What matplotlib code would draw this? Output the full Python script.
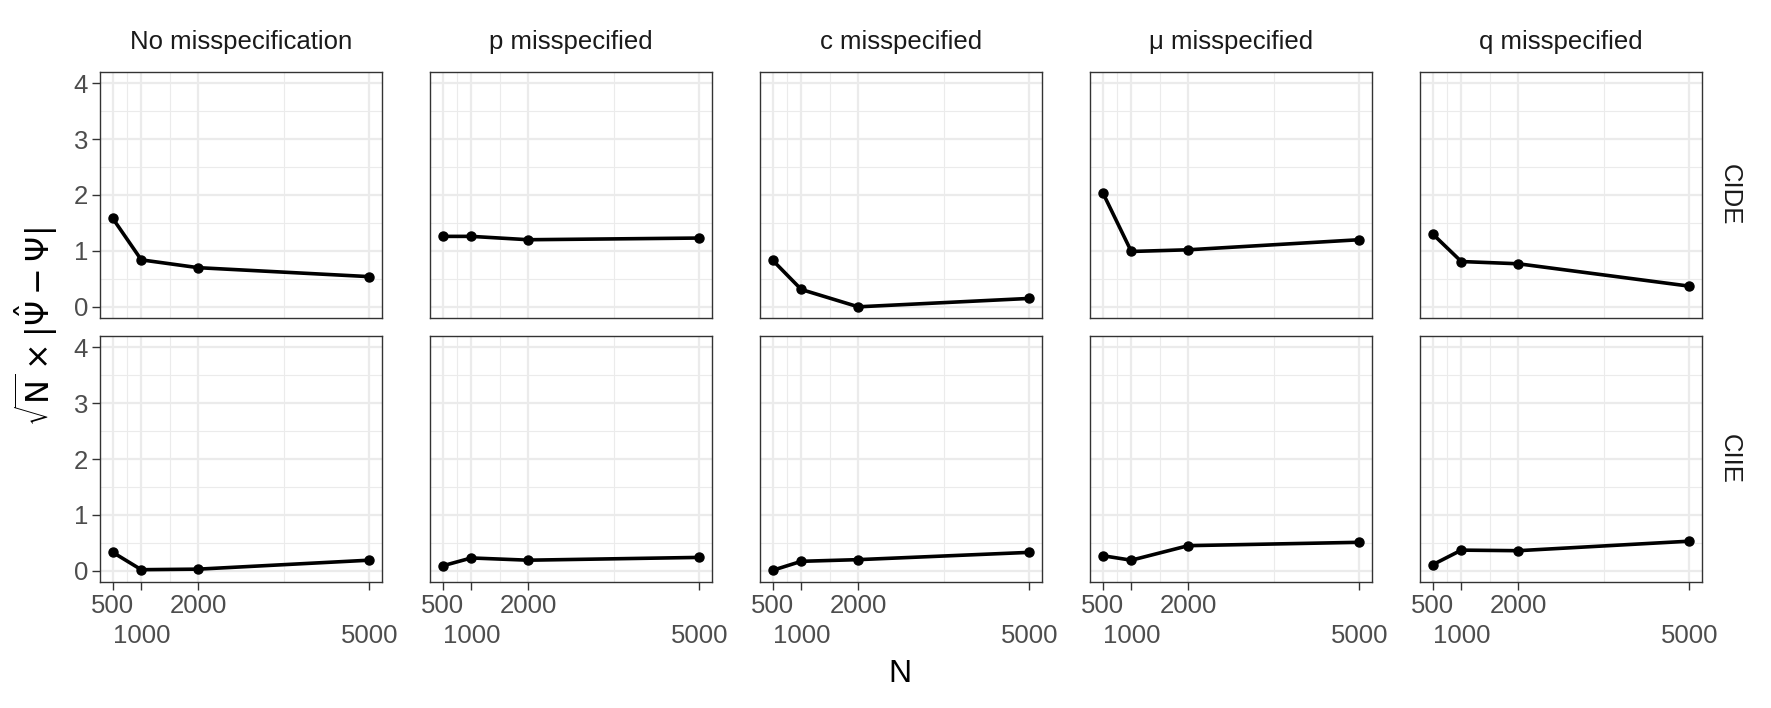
import matplotlib.pyplot as plt

plt.rcParams['font.family'] = ['Liberation Sans', 'DejaVu Sans']
plt.rcParams['mathtext.fontset'] = 'dejavusans'

# sample sizes on the x axis; labels dodged over two rows like ggplot
sizes = [500, 1000, 2000, 5000]
row1_labels = ["500", "", "2000", ""]
row2_sizes = [1000, 5000]
row2_labels = ["1000", "5000"]

scenarios = ["No misspecification", "p misspecified", "c misspecified",
             "μ misspecified", "q misspecified"]
effects = ["CIDE", "CIIE"]

# sqrt(N) x |bias|
cide_none = [1.58, 0.84, 0.70, 0.54]
cide_p = [1.26, 1.26, 1.20, 1.23]
cide_c = [0.83, 0.31, 0.00, 0.15]
cide_mu = [2.04, 0.99, 1.02, 1.20]
cide_q = [1.30, 0.81, 0.77, 0.37]

ciie_none = [0.33, 0.02, 0.03, 0.19]
ciie_p = [0.09, 0.23, 0.19, 0.24]
ciie_c = [0.01, 0.17, 0.20, 0.33]
ciie_mu = [0.27, 0.19, 0.45, 0.51]
ciie_q = [0.11, 0.37, 0.36, 0.53]

rows = [[cide_none, cide_p, cide_c, cide_mu, cide_q],
        [ciie_none, ciie_p, ciie_c, ciie_mu, ciie_q]]

W, H = 1771, 708
fig = plt.figure(figsize=(W / 100, H / 100), dpi=100)

lefts = [100 + 330 * i for i in range(5)]
tops = [72, 336]
pw, ph = 282, 246
fs_small = 18.5
fs_title = 23

for r, rowdata in enumerate(rows):
    for c, vals in enumerate(rowdata):
        ax = fig.add_axes([lefts[c] / W, 1 - (tops[r] + ph) / H, pw / W, ph / H])
        ax.set_xlim(275, 5225)
        ax.set_ylim(-0.2, 4.2)
        ax.set_xticks(sizes)
        ax.set_xticks([750, 1500, 3500], minor=True)
        ax.set_yticks([0, 1, 2, 3, 4])
        ax.set_yticks([0.5, 1.5, 2.5, 3.5], minor=True)
        ax.grid(which='major', color='#EBEBEB', lw=1.6)
        ax.grid(which='minor', color='#EBEBEB', lw=0.8)
        ax.set_axisbelow(True)

        ax.plot(sizes, vals, color='black', lw=2.6, marker='o', ms=6.5)

        for s in ax.spines.values():
            s.set_color('#333333')
            s.set_linewidth(1.0)
        ax.tick_params(which='minor', length=0)
        ax.tick_params(which='major', length=5.5, width=1.0, color='#333333',
                       labelsize=fs_small, labelcolor='#4D4D4D', pad=3)
        if c > 0:
            ax.tick_params(axis='y', left=False, labelleft=False)
        if r == 0:
            ax.tick_params(axis='x', bottom=False, labelbottom=False)
        else:
            ax.set_xticklabels(row1_labels)
            sec = ax.secondary_xaxis('bottom')
            sec.set_xticks(row2_sizes, labels=row2_labels)
            sec.tick_params(length=0, labelsize=fs_small, labelcolor='#4D4D4D', pad=30)
            sec.spines['bottom'].set_visible(False)

        if r == 0:
            fig.text((lefts[c] + pw / 2) / W, 1 - 42 / H, scenarios[c],
                     ha='center', va='center', fontsize=fs_small, color='#1A1A1A')
    fig.text(1730 / W, 1 - (tops[r] + ph / 2) / H, effects[r], rotation=-90,
             ha='center', va='center', fontsize=fs_small, color='#1A1A1A')

fig.text(900 / W, 1 - 674 / H, "N", ha='center', va='center', fontsize=fs_title)
fig.text(36 / W, 1 - 327 / H, r'$\sqrt{\mathrm{N}}\times|\hat{\Psi}-\Psi|$',
         rotation=90, ha='center', va='center', fontsize=fs_title)

fig.savefig("out.png", dpi=100)
